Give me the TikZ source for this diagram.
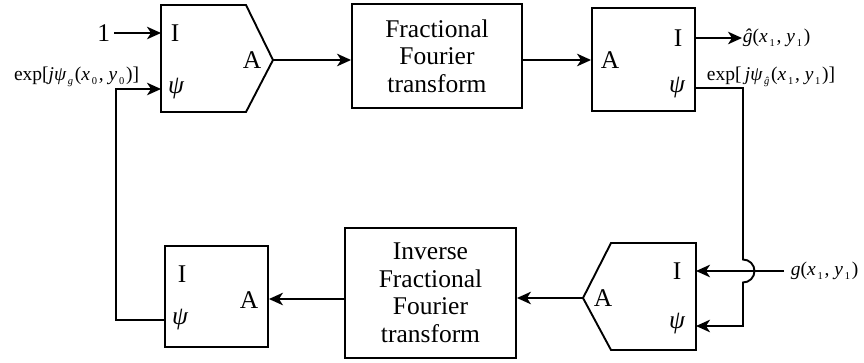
\documentclass[tikz,border=0pt]{standalone}
\usepackage{fontspec}
\setmainfont{Liberation Serif}
\usetikzlibrary{arrows.meta,calc}
\newcommand{\mysub}[1]{\raisebox{-0.4ex}{\fontsize{10.5}{10.5}\selectfont\,#1\,}}
\begin{document}
\begin{tikzpicture}[x=1pt,y=-1pt,
  line width=1.9pt,
  arr/.style={-{Stealth[length=14pt,width=12.5pt,inset=4pt]}},
  blk/.style={draw,rectangle,line width=1.9pt,align=center,inner sep=0pt,
    font=\fontsize{25.5}{27.5}\selectfont},
  lett/.style={inner sep=0pt,font=\fontsize{25.5}{25.5}\selectfont},
  lbl/.style={inner sep=0pt,font=\fontsize{19.5}{21}\selectfont}]
\useasboundingbox (0,0) rectangle (864,362);
% top-left pentagon
\draw (161,5) -- (246,5) -- (273,60) -- (246,112) -- (161,112) -- cycle;
\coordinate (tlI) at (161,33);
\coordinate (tlPsi) at (161,89);
\coordinate (tlA) at (273,60);
\node[lett] (tlIt) at (175,33) {I};
\node[lett] (tlAt) at (252,60) {A};
\node[lett] (tlPt) at (176,89) {\itshape ψ};
% FrFT
\node[blk,minimum width=170pt,minimum height=104pt] (frft) at (437,56)
  {Fractional\\Fourier\\transform};
% top-right box
\node[blk,minimum width=103pt,minimum height=103pt] (trbox) at (643.5,59.5) {};
\node[lett] (trAt) at (610,60) {A};
\node[lett] (trIt) at (678,38) {I};
\node[lett] (trPt) at (677,88) {\itshape ψ};
\coordinate (trI) at (695,38);
\coordinate (trPsi) at (695,88);
% bottom-right pentagon
\draw (696,243) -- (611,243) -- (583,298) -- (611,350) -- (696,350) -- cycle;
\coordinate (brI) at (696,271);
\coordinate (brPsi) at (696,326);
\coordinate (brA) at (583,298);
\node[lett] (brIt) at (677,271) {I};
\node[lett] (brAt) at (603,298) {A};
\node[lett] (brPt) at (677,324) {\itshape ψ};
% inverse FrFT
\node[blk,minimum width=171pt,minimum height=130pt] (ifrft) at (430.5,293)
  {Inverse\\Fractional\\Fourier\\transform};
% bottom-left box
\node[blk,minimum width=103pt,minimum height=101pt] (blbox) at (216.5,296.5) {};
\node[lett] (blIt) at (182,274) {I};
\node[lett] (blAt) at (249,300) {A};
\node[lett] (blPt) at (180,320) {\itshape ψ};
\coordinate (blPsi) at (165,320);
% labels
\node[lett,anchor=east] (one) at (111,33) {1};
\node[lbl,anchor=east] (expL) at (140,77)
  {exp[{\itshape jψ}\mysub{\itshape g}(\textit{x}\mysub{0}, \textit{y}\mysub{0})]};
\node[lbl,anchor=west] (ghat) at (742,38)
  {\textit{ĝ}(\textit{x}\mysub{1}, \textit{y}\mysub{1})};
\node[lbl,anchor=west] (expR) at (706,77)
  {exp[\,{\itshape jψ}\mysub{\itshape ĝ}(\textit{x}\mysub{1}, \textit{y}\mysub{1})]};
\node[lbl,anchor=west] (gin) at (790,271)
  {\textit{g}(\textit{x}\mysub{1}, \textit{y}\mysub{1})};
% connectors
\draw[arr] (one.east) ++(3,0) -- (tlI);
\draw[arr] (blPsi) -- (116,320) -- (116,89) -- (tlPsi);
\draw[arr] (tlA) -- (tlA -| frft.west);
\draw[arr] (frft.east |- 0,60) -- (trbox.west |- 0,60);
\draw[arr] (trI) -- (ghat.west);
\draw[arr] (trPsi) -- (743,88) -- (743,259.5) arc[start angle=90,end angle=-90,radius=11.5pt] -- (743,326) -- (brPsi);
\draw[arr] (gin.west) ++(-6,0) -- (brI);
\draw[arr] (brA) -- (brA -| ifrft.east);
\draw[arr] (ifrft.west |- 0,299) -- (blbox.east |- 0,299);
\end{tikzpicture}
\end{document}
